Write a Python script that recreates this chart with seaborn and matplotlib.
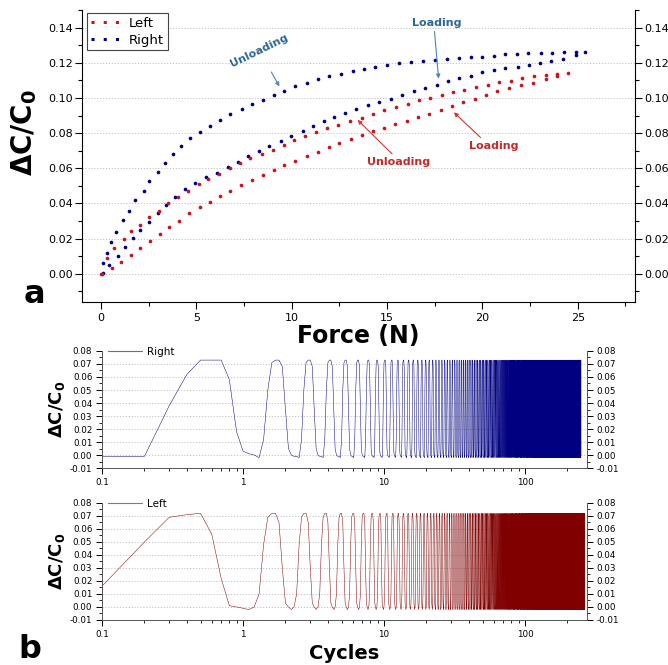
import numpy as np
import matplotlib
matplotlib.use("Agg")
import matplotlib.pyplot as plt
import seaborn as sns
from matplotlib.lines import Line2D
from matplotlib.ticker import MultipleLocator, FuncFormatter, NullFormatter, LogLocator

# ---- panel a: capacitance change vs force ----
right_load_f = [0.09, 0.44, 0.87, 1.26, 1.69, 2.06, 2.53, 2.97, 3.4, 3.9, 4.4, 4.93, 5.5, 6.08, 6.64, 7.2,
                7.72, 8.3, 8.82, 9.43, 9.96, 10.57, 11.1, 11.67, 12.23, 12.79, 13.37, 13.98, 14.59, 15.2,
                15.8, 16.39, 17.0, 17.6, 18.17, 18.78, 19.39, 20.0, 20.58, 21.17, 21.84, 22.45, 23.0,
                23.6, 24.2, 24.9]
right_load_v = [0.0004, 0.0051, 0.0102, 0.0155, 0.0202, 0.0249, 0.0296, 0.0344, 0.0391, 0.0435, 0.048,
                0.0517, 0.0551, 0.0576, 0.0608, 0.0633, 0.0669, 0.0699, 0.0725, 0.0755, 0.0784, 0.0812,
                0.084, 0.0869, 0.0893, 0.0914, 0.0939, 0.0957, 0.0976, 0.0995, 0.1014, 0.1037, 0.1058,
                0.1076, 0.1095, 0.1112, 0.1127, 0.1146, 0.116, 0.1171, 0.1178, 0.1188, 0.1197, 0.1209,
                0.122, 0.1245]
right_unload_f = [0.09, 0.31, 0.52, 0.79, 1.14, 1.45, 1.8, 2.24, 2.53, 2.97, 3.35, 3.75, 4.2, 4.68, 5.19,
                  5.71, 6.24, 6.78, 7.37, 7.9, 8.47, 9.05, 9.61, 10.19, 10.8, 11.39, 11.97, 12.58, 13.19,
                  13.8, 14.38, 14.99, 15.63, 16.25, 16.86, 17.5, 18.13, 18.78, 19.39, 20.0, 20.6, 21.2,
                  21.8, 22.4, 23.06, 23.67, 24.28, 24.9, 25.4]
right_unload_v = [0.006, 0.012, 0.018, 0.024, 0.0306, 0.036, 0.042, 0.047, 0.053, 0.058, 0.063, 0.068,
                  0.0727, 0.077, 0.0806, 0.084, 0.0877, 0.0906, 0.0937, 0.0963, 0.0991, 0.1018, 0.1042,
                  0.1065, 0.1086, 0.1105, 0.1124, 0.1137, 0.1152, 0.1165, 0.1178, 0.119, 0.12, 0.1207,
                  0.1212, 0.1218, 0.1222, 0.1226, 0.123, 0.1232, 0.1237, 0.1247, 0.125, 0.1254, 0.1256,
                  0.1258, 0.1259, 0.1259, 0.1262]
left_load_f = [0.05, 0.58, 1.05, 1.57, 2.06, 2.57, 3.09, 3.58, 4.1, 4.63, 5.19, 5.71, 6.25, 6.78, 7.34,
               7.9, 8.47, 9.05, 9.61, 10.17, 10.78, 11.36, 11.93, 12.49, 13.1, 13.68, 14.24, 14.82, 15.42,
               16.04, 16.63, 17.2, 17.82, 18.4, 19.0, 19.6, 20.18, 20.75, 21.4, 22.01, 22.63, 23.32, 23.9]
left_load_v = [0.0, 0.0032, 0.0066, 0.0108, 0.0146, 0.0189, 0.0225, 0.0265, 0.0302, 0.0344, 0.0378, 0.041,
               0.0442, 0.0472, 0.0503, 0.0533, 0.0561, 0.0589, 0.0618, 0.0642, 0.0669, 0.0693, 0.0721,
               0.0744, 0.0765, 0.0788, 0.081, 0.0831, 0.085, 0.0869, 0.0891, 0.091, 0.0933, 0.0952,
               0.0976, 0.0995, 0.1018, 0.1039, 0.1058, 0.1071, 0.1084, 0.1109, 0.1122]
left_unload_f = [0.0, 0.31, 0.7, 1.19, 1.57, 2.06, 2.53, 3.02, 3.53, 4.02, 4.58, 5.12, 5.62, 6.2, 6.74,
                 7.28, 7.83, 8.42, 9.0, 9.57, 10.13, 10.69, 11.27, 11.84, 12.44, 13.07, 13.66, 14.27,
                 14.85, 15.46, 16.07, 16.68, 17.26, 17.87, 18.48, 19.04, 19.65, 20.27, 20.87, 21.49,
                 22.1, 22.71, 23.32, 23.9, 24.46]
left_unload_v = [0.0, 0.0089, 0.0146, 0.0197, 0.0244, 0.0278, 0.0321, 0.0359, 0.04, 0.0438, 0.0472, 0.051,
                 0.0538, 0.057, 0.0599, 0.063, 0.0656, 0.0684, 0.0706, 0.0731, 0.0759, 0.0782, 0.0806,
                 0.0829, 0.0847, 0.0869, 0.0888, 0.091, 0.0929, 0.0948, 0.0967, 0.0986, 0.1001, 0.1018,
                 0.1031, 0.1046, 0.1061, 0.1076, 0.109, 0.1099, 0.1114, 0.1127, 0.1133, 0.1137, 0.1141]

# ---- panel b: cyclic test, sampled every 0.1 cycle ----
# first samples read one by one, then one press/release profile repeated for the rest of the run
dt = 0.1
right_start = [-0.001, -0.001, 0.038, 0.062, 0.073, 0.073, 0.073, 0.058, 0.018, 0.003, 0.001, 0.0]
right_cycle = [-0.002, 0.012, 0.05, 0.071, 0.073, 0.073, 0.068, 0.035, 0.005, 0.0, -0.001, -0.001]
right_n_cycles = 207
left_start = [0.016, 0.05, 0.069, 0.071, 0.072, 0.056, 0.022, 0.001, 0.0, -0.001]
left_cycle = [-0.002, 0.0, 0.01, 0.048, 0.069, 0.072, 0.072, 0.065, 0.03, 0.003, 0.0]
left_n_cycles = 240

NAVY = "#000080"
RED = "#c8141e"
DARKRED = "#800000"
BLUE_TXT = "#2c6796"
RED_TXT = "#c42a2a"
GRID = "#bdbdbd"

sns.set_style("ticks")
plt.rcParams["font.family"] = ["DejaVu Sans"]
plt.rcParams["xtick.direction"] = "out"
plt.rcParams["ytick.direction"] = "out"
for key in ["text.color", "axes.labelcolor", "xtick.color", "ytick.color", "axes.edgecolor"]:
    plt.rcParams[key] = "black"

fig = plt.figure(figsize=(6.68, 6.65), dpi=100)

# ================= panel a =================
ax = fig.add_axes([0.1228, 0.5459, 0.8278, 0.4391])
for f, v, c in [(right_load_f, right_load_v, NAVY), (right_unload_f, right_unload_v, NAVY),
                (left_load_f, left_load_v, RED), (left_unload_f, left_unload_v, RED)]:
    sns.scatterplot(x=f, y=v, color=c, marker="o", s=7, linewidth=0, ax=ax, zorder=3)

ax.set_xlim(-1, 28)
ax.set_ylim(-0.016, 0.15)
ax.xaxis.set_major_locator(MultipleLocator(5))
ax.xaxis.set_minor_locator(MultipleLocator(2.5))
ax.yaxis.set_minor_locator(MultipleLocator(0.01))
ax.set_yticks(np.arange(0, 0.141, 0.02))
ax.yaxis.set_major_formatter(FuncFormatter(lambda v, _: f"{v:.2f}"))
ax.tick_params(axis="both", which="major", labelsize=8, length=5, width=0.8, pad=1.5)
ax.tick_params(axis="x", which="major", pad=3)
ax.tick_params(axis="both", which="minor", length=3, width=0.8)
ax.tick_params(axis="y", which="both", right=True, labelright=True)
ax.yaxis.grid(True, which="major", ls=(0, (1.5, 2)), color=GRID, lw=0.6)
ax.spines["top"].set_visible(False)
for s in ["left", "right", "bottom"]:
    ax.spines[s].set_linewidth(0.8)
ax.set_xlabel("Force (N)", fontsize=17, fontweight="bold", labelpad=1)
ax.set_ylabel(r"ΔC/C$_\mathbf{0}$", fontsize=20, fontweight="bold")
ax.yaxis.set_label_coords(-0.078, 0.58)

handles = [Line2D([], [], color=RED, ls=(0, (1, 3)), lw=2.2, label="Left"),
           Line2D([], [], color=NAVY, ls=(0, (1, 3)), lw=2.2, label="Right")]
leg = ax.legend(handles=handles, loc="upper left", bbox_to_anchor=(0.004, 1.0), fontsize=9.5,
                frameon=True, fancybox=False, edgecolor="#444444", framealpha=1,
                handlelength=2.3, borderpad=0.3, labelspacing=0.3, handletextpad=0.6, borderaxespad=0.2)
leg.get_frame().set_linewidth(0.8)

arrow_kw = dict(arrowstyle="-|>", lw=0.8, mutation_scale=6, shrinkA=0, shrinkB=0)
ax.annotate("Unloading", xy=(9.35, 0.1065), xytext=(8.3, 0.127), fontsize=8, fontweight="bold",
            color=BLUE_TXT, rotation=26, ha="center", va="center",
            arrowprops=dict(color="#4a86be", **arrow_kw))
ax.annotate("Loading", xy=(17.7, 0.111), xytext=(17.6, 0.1425), fontsize=8, fontweight="bold",
            color=BLUE_TXT, ha="center", va="center",
            arrowprops=dict(color="#4a86be", **arrow_kw, relpos=(0.45, 0.0)))
ax.annotate("Loading", xy=(18.5, 0.0918), xytext=(20.6, 0.0728), fontsize=8, fontweight="bold",
            color=RED_TXT, ha="center", va="center",
            arrowprops=dict(color="#e03030", **arrow_kw, relpos=(0.3, 1.0)))
ax.annotate("Unloading", xy=(13.45, 0.0875), xytext=(15.6, 0.0635), fontsize=8, fontweight="bold",
            color=RED_TXT, ha="center", va="center",
            arrowprops=dict(color="#e03030", **arrow_kw, relpos=(0.45, 1.0)))

fig.text(0.052, 0.545, "a", fontsize=23, fontweight="bold", ha="center", va="baseline")

# ================= panel b =================
right_vals = np.array(right_start + right_cycle * right_n_cycles)
left_vals = np.array(left_start + left_cycle * left_n_cycles)
right_t = dt * np.arange(1, len(right_vals) + 1)
left_t = dt * np.arange(1, len(left_vals) + 1)

axes_b = [fig.add_axes([0.1527, 0.2962, 0.726, 0.176]),
          fig.add_axes([0.1527, 0.0677, 0.726, 0.176])]
for axb, t, v, c, lab in [(axes_b[0], right_t, right_vals, NAVY, "Right"),
                          (axes_b[1], left_t, left_vals, DARKRED, "Left")]:
    axb.set_xscale("log")
    sns.lineplot(x=t, y=v, color=c, lw=0.35, sort=False, estimator=None, ax=axb, label=lab)
    axb.set_xlim(0.1, 275)
    axb.set_ylim(-0.01, 0.08)
    axb.set_yticks(np.arange(-0.01, 0.0801, 0.01))
    axb.yaxis.set_minor_locator(MultipleLocator(0.005))
    axb.yaxis.set_major_formatter(FuncFormatter(lambda y, _: f"{y:.2f}"))
    axb.set_xticks([0.1, 1, 10, 100])
    axb.xaxis.set_major_formatter(FuncFormatter(lambda x, _: f"{x:g}"))
    axb.xaxis.set_minor_locator(LogLocator(base=10, subs=np.arange(2, 10)))
    axb.xaxis.set_minor_formatter(NullFormatter())
    axb.tick_params(axis="both", which="major", labelsize=6.3, length=4, width=0.7, pad=3)
    axb.tick_params(axis="both", which="minor", length=2, width=0.6)
    axb.tick_params(axis="y", which="both", right=True, labelright=True)
    for gy in np.arange(0, 0.0701, 0.01):
        axb.axhline(gy, ls=(0, (1.5, 2)), color=GRID, lw=0.6, zorder=0)
    axb.spines["top"].set_visible(False)
    for s in ["left", "right", "bottom"]:
        axb.spines[s].set_linewidth(0.7)
        axb.spines[s].set_color("#555555")
    axb.set_xlabel("")
    axb.set_ylabel(r"ΔC/C$_\mathbf{0}$", fontsize=13, fontweight="bold", labelpad=2)
    lg = axb.legend(loc="upper left", bbox_to_anchor=(0.0, 1.09), frameon=False, fontsize=7.5,
                    handlelength=3.2, handletextpad=0.5, borderaxespad=0.2)
    for h in lg.get_lines():
        h.set_linewidth(0.8)
        h.set_alpha(0.6)

axes_b[1].set_xlabel("Cycles", fontsize=14, fontweight="bold", labelpad=4)
fig.text(0.045, 0.011, "b", fontsize=23, fontweight="bold", ha="center", va="baseline")

fig.savefig("out.png", dpi=100)
